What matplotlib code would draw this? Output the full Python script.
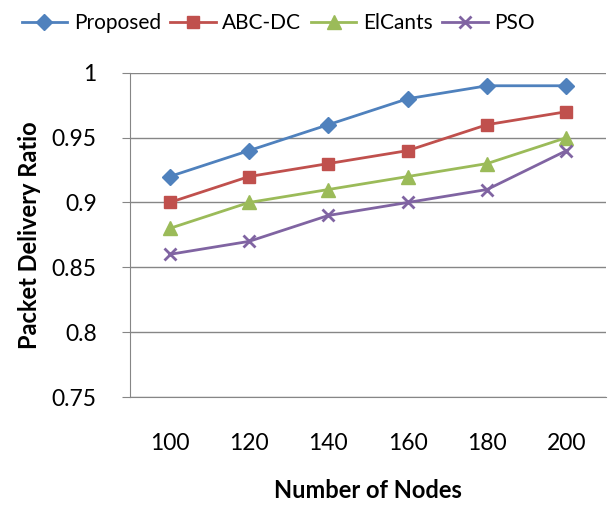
import matplotlib.pyplot as plt

# node counts and packet delivery ratio per routing scheme
nodes = [100, 120, 140, 160, 180, 200]
proposed = [0.92, 0.94, 0.96, 0.98, 0.99, 0.99]
abc_dc = [0.90, 0.92, 0.93, 0.94, 0.96, 0.97]
elcants = [0.88, 0.90, 0.91, 0.92, 0.93, 0.95]
pso = [0.86, 0.87, 0.89, 0.90, 0.91, 0.94]

series = [
    ('Proposed', proposed, '#4F81BD', 'D', 8),
    ('ABC-DC', abc_dc, '#C0504D', 's', 9),
    ('ElCants', elcants, '#9BBB59', '^', 10),
    ('PSO', pso, '#8064A2', 'x', 9),
]

plt.rcParams['font.family'] = ['Lato', 'DejaVu Sans']
plt.rcParams['font.size'] = 15

fig = plt.figure(figsize=(6.16, 5.09), dpi=100)
ax = fig.add_axes([0.211, 0.22, 0.773, 0.637])

xs = list(range(len(nodes)))
for name, vals, col, mk, ms in series:
    kw = dict(markeredgewidth=2) if mk == 'x' else dict(markeredgecolor=col)
    ax.plot(xs, vals, color=col, lw=2, marker=mk, ms=ms, label=name, **kw)

ax.set_xlim(-0.5, len(nodes) - 0.5)
ax.set_ylim(0.75, 1.0)
ax.set_yticks([0.75, 0.8, 0.85, 0.9, 0.95, 1.0])
ax.set_yticklabels(['0.75', '0.8', '0.85', '0.9', '0.95', '1'])
ax.set_xticks(xs)
ax.set_xticklabels([str(n) for n in nodes])

ax.grid(axis='y', color='#868686', lw=1)
ax.set_axisbelow(True)
for s in ['top', 'right']:
    ax.spines[s].set_visible(False)
for s in ['left', 'bottom']:
    ax.spines[s].set_color('#868686')
ax.tick_params(axis='y', length=6, color='#868686', pad=18, labelsize=16.5)
ax.tick_params(axis='x', length=0, pad=26, labelsize=16.5)

ax.set_xlabel('Number of Nodes', fontweight='bold', fontsize=17, labelpad=18)
ax.set_ylabel('Packet Delivery Ratio', fontweight='bold', fontsize=17, labelpad=8)

fig.legend(loc='center left', bbox_to_anchor=(0.035, 0.955), ncol=4, frameon=False,
           handlelength=2.2, columnspacing=0.45, handletextpad=0.3, borderaxespad=0,
           borderpad=0)

fig.savefig('out.png', dpi=100)
